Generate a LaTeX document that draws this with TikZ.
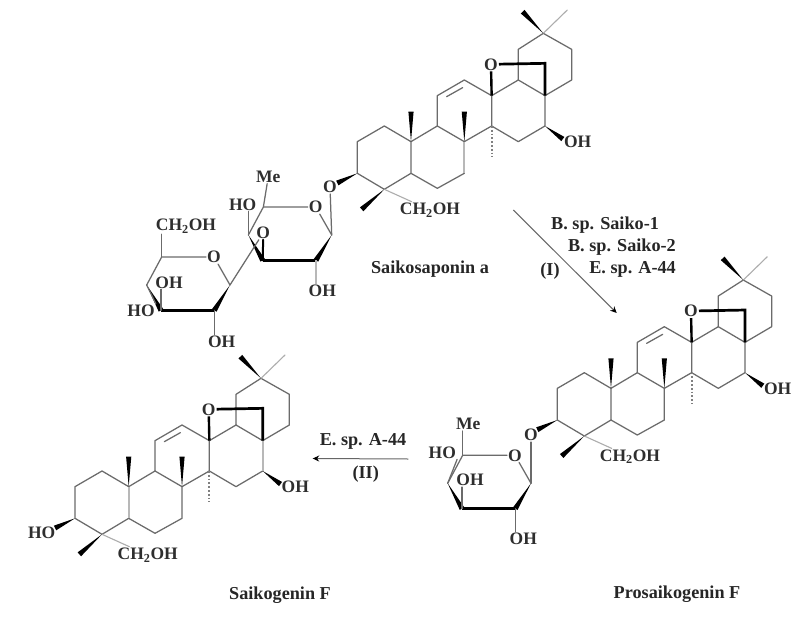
\documentclass[tikz,border=0pt]{standalone}
\usepackage{fontspec}
\setmainfont{Liberation Serif}
\usetikzlibrary{calc,arrows.meta}
\newcommand{\wedgebond}[2]{\fill[black] (#1) -- ($(#2)!2.6pt!90:(#1)$) -- ($(#2)!2.6pt!-90:(#1)$) -- cycle;}
\tikzset{
  bond/.style={draw=black!58,line width=1.25pt,line cap=round,line join=round},
  softbond/.style={draw=black!32,line width=1.1pt,line cap=round},
  widesoft/.style={draw=black!28,line width=2.2pt},
  boldbond/.style={draw=black,line width=2.7pt,line join=miter},
  hashbond/.style={draw=black!50,line width=2.2pt,dash pattern=on 1.8pt off 2pt},
  atom/.style={font=\fontsize{17.5}{18}\selectfont\bfseries,text=black!82,inner sep=1pt},
  caption/.style={font=\fontsize{18.2}{19}\selectfont\bfseries,text=black!85,inner sep=0pt},
  reaction/.style={draw=black!60,line width=1pt,-{Stealth[length=6.5pt,width=6pt,color=black]}},
  triterpene/.pic={
    \begin{scope}[x=0.3333pt,y=-0.3333pt]
    \foreach \n/\p in {gem/{640,100},e2/{725,148},e3/{725,240},cde/{645,287},e5/{565,240},e6/{565,148},
      m1/{578,35},m2/{712,30},obr/{483,193},corner/{645,190},
      d2/{645,378},d3/{565,425},cd/{485,378},cq/{485,287},
      c2/{403,240},c3/{322,287},c4/{322,378},bc/{403,425},
      b3/{403,520},b4/{322,565},ab/{243,520},ab2/{243,425},
      a3/{163,568},a4/{82,520},a5/{82,425},a6/{163,378},
      m3/{243,335},m4/{403,335},m5/{485,472},o3/{22,549},m6/{95,628},
      db1/{350,290},db2/{398,263}}
      {\coordinate (-\n) at (\p);}
    \node[atom] (-oh) at (743,425) {OH};
    \node[atom] (-ch) at (300,630) {CH\textsubscript{2}OH};
    \node[atom] (-o)  at (-obr) {O};
    \draw[bond] (-gem) -- (-e2) -- (-e3) -- (-cde) -- (-e5) -- (-e6) -- cycle;
    \draw[bond] (-cde) -- (-d2) -- (-d3) -- (-cd) -- (-cq) -- (-e5);
    \draw[bond] (-cq) -- (-c2) -- (-c3) -- (-c4) -- (-bc) -- (-cd);
    \draw[bond] (-db1) -- (-db2);
    \draw[bond] (-bc) -- (-b3) -- (-b4) -- (-ab) -- (-ab2) -- (-c4);
    \draw[bond] (-ab) -- (-a3) -- (-a4) -- (-a5) -- (-a6) -- (-ab2);
    \draw[softbond] (-gem) -- (-m2);
    \draw[softbond] (-a3) -- (-ch);
    \draw[hashbond] (-cd) -- (-m5);
    \draw[boldbond] (-o) -- (-corner) -- (-cde);
    \draw[boldbond,line width=2.4pt] (-o) -- (-cq);
    \wedgebond{-gem}{-m1}
    \wedgebond{-ab2}{-m3}
    \wedgebond{-bc}{-m4}
    \wedgebond{-d2}{-oh.170}
    \wedgebond{-a4}{-o3}
    \wedgebond{-a3}{-m6}
    \end{scope}
  },
  pyranose/.pic={
    \begin{scope}[x=0.3333pt,y=-0.3333pt]
    \coordinate (-c1) at (0,0);
    \node[atom] (-o) at (-48,-84) {O};
    \coordinate (-c5) at (-205,-84);
    \coordinate (-c4) at (-250,0);
    \coordinate (-c3) at (-207,76);
    \coordinate (-c2) at (-47,76);
    \draw[bond] (-c1) -- (-o) -- (-c5) -- (-c4);
    \draw[boldbond] (-c3) -- (-c2);
    \wedgebond{-c4}{-c3}
    \wedgebond{-c1}{-c2}
    \end{scope}
  }
}
\begin{document}
\begin{tikzpicture}[x=1pt,y=-1pt]
\useasboundingbox (0,0) rectangle (809,632);
\fill[white] (0,0) rectangle (809,632);

% Saikosaponin a
\pic (sa) at (330,0) {triterpene};
\draw[widesoft] (sa-bc) -- (sa-b3);
\pic (s1) at (331.7,235) {pyranose};
\pic (s2) at (230,285) {pyranose};
\node[atom] (oa) at (330,187) {O};
\node[atom] (me1) at (268.3,176.7) {Me};
\node[atom] (ho1) at (242.7,204.3) {HO};
\node[atom] (og) at (263.3,232.7) {O};
\node[atom] (oh1) at (322.3,291) {OH};
\node[atom] (ch2) at (186,226) {CH\textsubscript{2}OH};
\node[atom] (oh2) at (169,282.3) {OH};
\node[atom] (ho2) at (141,310.7) {HO};
\node[atom] (oh3) at (221.7,341.7) {OH};
\draw[bond] (oa) -- (s1-c1);
\draw[bond] (s1-c5) -- (me1);
\draw[bond] (s1-c4) -- (ho1.south -| s1-c4);
\draw[bond,line width=2pt,draw=black] (s1-c3) -- (og);
\draw[bond] (og) -- (s2-c1);
\draw[widesoft] (s1-c2) -- (oh1.north -| s1-c2);
\draw[bond] (s2-c5) -- (ch2.south -| s2-c5);
\draw[bond] (s2-c3) -- (oh2.south -| s2-c3);
\draw[bond] (s2-c4) -- (ho2.north east);
\draw[bond] (s2-c2) -- (oh3.north -| s2-c2);

% Prosaikogenin F
\pic (pr) at (530,246.7) {triterpene};
\pic (s3) at (531,483.3) {pyranose};
\node[atom] (ob) at (531,435) {O};
\node[atom] (me2) at (468.3,424) {Me};
\node[atom] (ho3) at (442.3,452.3) {HO};
\node[atom] (oh4) at (470,480) {OH};
\node[atom] (oh5) at (523.3,539) {OH};
\draw[bond] (ob) -- (s3-c1);
\draw[bond] (s3-c5) -- (me2.south -| s3-c5);
\draw[bond] (s3-c4) -- (ho3.south east);
\draw[bond] (s3-c3) -- (oh4.south -| s3-c3);
\draw[bond] (s3-c2) -- (oh5.north -| s3-c2);

% Saikogenin F
\pic (sg) at (47.7,345) {triterpene};
\draw[widesoft] (sg-ab2) -- (sg-ab);
\draw[widesoft] (sg-cde) -- (sg-d2);
\node[atom] (ho4) at (41.7,532.7) {HO};

% Reactions
\coordinate (r1a) at (513.3,210);
\coordinate (r1b) at (616.7,313);
\coordinate (r2a) at (408.3,459);
\coordinate (r2b) at (312.7,458.5);
\draw[reaction] (r1a) -- (r1b);
\draw[reaction] (r2a) -- (r2b);

\node[caption,anchor=west] (t1) at (551,225) {B. sp. Saiko-1};
\node[caption,anchor=east] (t2) at (676,247) {B. sp. Saiko-2};
\node[caption,anchor=east] (t3) at (676,269) {E. sp. A-44};
\node[caption] (t4) at (550,271) {(I)};
\node[caption] (t5) at (430,269) {Saikosaponin a};
\node[caption] (t6) at (363,441) {E. sp. A-44};
\node[caption] (t7) at (365.7,474) {(II)};
\node[caption] (t8) at (280,595) {Saikogenin F};
\node[caption] (t9) at (677,594) {Prosaikogenin F};
\end{tikzpicture}
\end{document}
